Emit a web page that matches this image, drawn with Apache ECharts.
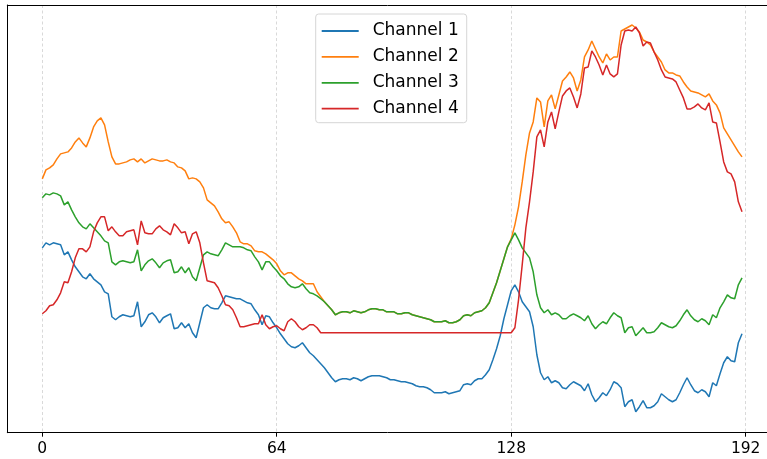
<!DOCTYPE html>
<html>
<head>
<meta charset="utf-8">
<script src="https://cdn.jsdelivr.net/npm/echarts@6.0.0/dist/echarts.min.js"></script>
<style>
  html, body { margin: 0; padding: 0; background: #fff; }
  #chart { width: 767px; height: 459px; }
</style>
</head>
<body>
<div id="chart"></div>
<script>
// sample index 0..191, amplitude values
const names = ['Channel 1', 'Channel 2', 'Channel 3', 'Channel 4']
const xTicks = [0, 64, 128, 192]

const ch1 = [
  185, 190, 188, 190, 189, 188, 178, 181, 173, 166,
  161, 156, 154, 159, 154, 151, 148, 141, 139, 116,
  113, 116, 118, 117, 116, 117, 131, 106, 111, 118,
  120, 116, 110, 115, 117, 119, 104, 105, 110, 105,
  109, 100, 95, 110, 125, 128, 125, 124, 124, 130,
  137, 136, 135, 134, 134, 132, 130, 129, 123, 118,
  108, 117, 116, 110, 105, 99, 94, 89, 86, 85,
  87, 90, 85, 80, 77, 73, 69, 65, 60, 55,
  51, 53, 54, 54, 53, 55, 54, 52, 54, 56,
  57, 57, 57, 56, 55, 53, 53, 52, 51, 51,
  50, 49, 47, 46, 46, 45, 43, 40, 40, 40,
  41, 39, 40, 41, 42, 48, 49, 48, 52, 54,
  54, 58, 63, 73, 84, 97, 114, 128, 142, 148,
  141, 131, 126, 121, 106, 78, 60, 53, 56, 50,
  52, 50, 45, 44, 48, 51, 49, 47, 42, 49,
  38, 31, 35, 40, 37, 43, 51, 49, 45, 26,
  31, 33, 21, 26, 32, 25, 25, 27, 31, 39,
  36, 33, 31, 33, 40, 48, 55, 48, 42, 40,
  43, 41, 36, 50, 47, 59, 70, 76, 72, 71,
  90, 99
]

const ch2 = [
  254, 263, 265, 268, 274, 279, 280, 281, 285, 291,
  295, 290, 286, 295, 306, 312, 315, 308, 291, 276,
  269, 269, 270, 271, 273, 274, 271, 274, 270, 272,
  274, 273, 272, 272, 273, 271, 270, 266, 265, 262,
  254, 255, 254, 251, 245, 233, 230, 227, 221, 214,
  210, 211, 206, 200, 191, 189, 189, 187, 182, 181,
  181, 179, 176, 173, 169, 162, 158, 160, 160, 157,
  154, 152, 149, 149, 149, 141, 136, 131, 127, 123,
  118, 120, 121, 121, 120, 122, 121, 120, 121, 123,
  124, 124, 123, 123, 121, 121, 121, 119, 119, 120,
  120, 118, 117, 116, 115, 114, 113, 111, 111, 111,
  112, 110, 110, 111, 113, 117, 118, 117, 120, 121,
  122, 125, 130, 140, 150, 162, 174, 186, 194, 208,
  226, 251, 278, 300, 311, 335, 331, 306, 332, 338,
  324, 338, 352, 356, 361, 355, 342, 353, 376, 383,
  392, 384, 376, 370, 379, 373, 376, 376, 402, 404,
  406, 408, 405, 401, 393, 391, 388, 381, 376, 371,
  363, 360, 360, 358, 357, 351, 346, 342, 341, 340,
  338, 336, 339, 332, 328, 320, 305, 299, 293, 287,
  281, 276
]

const ch3 = [
  235, 239, 238, 240, 239, 237, 228, 231, 223, 216,
  210, 206, 204, 209, 205, 201, 197, 192, 190, 171,
  168, 171, 172, 171, 170, 171, 183, 162, 168, 172,
  174, 170, 165, 170, 172, 173, 160, 161, 166, 160,
  165, 156, 152, 165, 178, 181, 179, 178, 177, 183,
  190, 188, 186, 186, 186, 185, 183, 182, 176, 171,
  163, 171, 171, 166, 162, 157, 154, 149, 146, 145,
  146, 149, 144, 140, 139, 137, 134, 131, 127, 123,
  118, 120, 121, 121, 120, 122, 121, 120, 121, 123,
  124, 124, 123, 123, 121, 121, 121, 119, 119, 120,
  120, 118, 117, 116, 115, 114, 113, 111, 111, 111,
  112, 110, 110, 111, 113, 117, 118, 117, 120, 121,
  122, 125, 130, 140, 150, 162, 174, 186, 193, 200,
  193, 185, 180, 175, 161, 138, 125, 120, 123, 118,
  120, 118, 114, 114, 117, 119, 117, 115, 112, 117,
  109, 104, 108, 111, 109, 115, 120, 117, 115, 100,
  105, 106, 97, 101, 105, 100, 100, 101, 105, 110,
  108, 106, 105, 107, 112, 118, 123, 117, 113, 111,
  114, 112, 108, 118, 115, 125, 131, 138, 135, 134,
  148, 155
]

const ch4 = [
  119, 122, 127, 128, 133, 140, 151, 150, 161, 175,
  184, 184, 181, 186, 201, 210, 216, 216, 202, 206,
  201, 197, 197, 201, 202, 203, 188, 212, 200, 199,
  199, 204, 207, 203, 201, 198, 209, 205, 200, 201,
  189, 199, 201, 190, 170, 152, 151, 150, 145, 137,
  128, 127, 123, 115, 106, 106, 107, 108, 109, 109,
  118, 108, 104, 106, 107, 104, 102, 111, 114, 111,
  106, 103, 105, 108, 108, 105, 100, 100, 100, 100,
  100, 100, 100, 100, 100, 100, 100, 100, 100, 100,
  100, 100, 100, 100, 100, 100, 100, 100, 100, 100,
  100, 100, 100, 100, 100, 100, 100, 100, 100, 100,
  100, 100, 100, 100, 100, 100, 100, 100, 100, 100,
  100, 100, 100, 100, 100, 100, 100, 100, 100, 105,
  133, 168, 205, 231, 261, 296, 303, 286, 311, 321,
  304, 321, 337, 342, 345, 336, 325, 339, 365, 366,
  382, 376, 368, 358, 368, 359, 356, 359, 388, 402,
  403, 402, 406, 400, 387, 391, 390, 381, 373, 363,
  356, 355, 354, 351, 343, 335, 324, 324, 326, 329,
  325, 323, 330, 311, 310, 291, 271, 261, 259, 251,
  231, 221
]

const channels = [ch1, ch2, ch3, ch4]
const colors = ['#1f77b4', '#ff7f0e', '#2ca02c', '#d62728']

const chart = echarts.init(document.getElementById('chart'))

const font = 'DejaVu Sans'

chart.setOption({
  animation: false,
  backgroundColor: '#fff',
  grid: { left: 7.3, right: -10, top: 5, bottom: 26.3, outerBoundsMode: 'none' },
  legend: {
    orient: 'vertical',
    left: 315.7,
    top: 14,
    padding: [8, 8, 5, 6],
    icon: 'rect',
    itemWidth: 37,
    itemHeight: 1.8,
    itemGap: 7.9,
    backgroundColor: 'rgba(255,255,255,0.8)',
    borderColor: '#d6d6d6',
    borderWidth: 1,
    borderRadius: 3,
    textStyle: { fontFamily: font, fontSize: 17, color: '#000', lineHeight: 18, padding: [0, 0, 0, 9] },
    data: names,
  },
  xAxis: [
    {
      type: 'value',
      min: -9.55,
      max: 200.55,
      position: 'bottom',
      axisLine: { show: true, lineStyle: { color: '#000', width: 1 } },
      axisTick: { show: true, customValues: xTicks, length: 4, lineStyle: { color: '#000', width: 1 } },
      axisLabel: { customValues: xTicks, fontFamily: font, fontSize: 15.5, color: '#000', margin: 8 },
      splitLine: { show: true, lineStyle: { color: '#cfcfcf', width: 0.8, type: [3, 2.5] } },
    },
    {
      type: 'value',
      min: -9.55,
      max: 200.55,
      position: 'top',
      axisLine: { show: true, onZero: false, lineStyle: { color: '#000', width: 1 } },
      axisTick: { show: false },
      axisLabel: { show: false },
      splitLine: { show: false },
    },
  ],
  yAxis: {
    type: 'value',
    min: 0,
    max: 428,
    axisLine: { show: true, onZero: false, lineStyle: { color: '#000', width: 1 } },
    axisTick: { show: false },
    axisLabel: { show: false },
    splitLine: { show: false },
  },
  series: channels.map((vals, k) => ({
    name: names[k],
    type: 'line',
    xAxisIndex: 0,
    data: vals.map((v, i) => [i, v]),
    symbol: 'none',
    color: colors[k],
    lineStyle: { color: colors[k], width: 1.5 },
  })),
})
</script>
</body>
</html>
